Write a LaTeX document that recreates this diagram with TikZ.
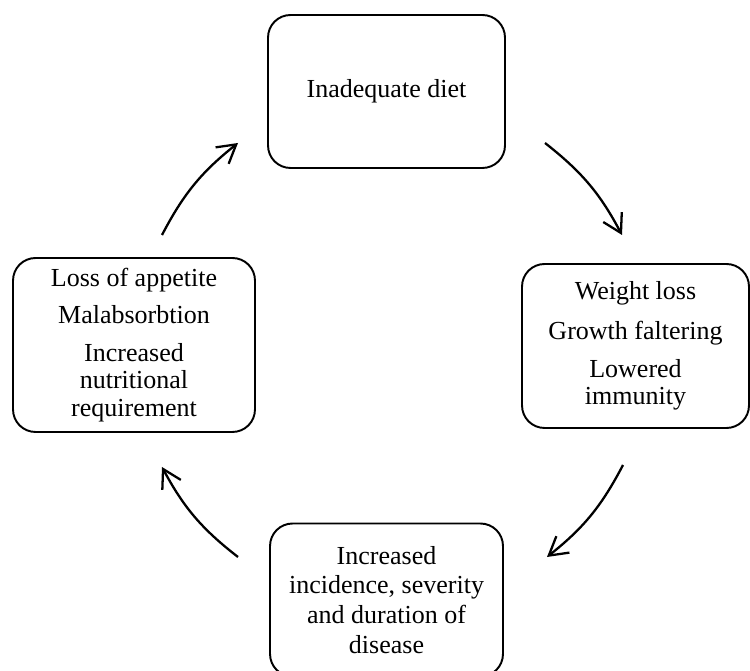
\documentclass[tikz,border=0pt]{standalone}
\usepackage{fontspec}
\setmainfont{Liberation Serif}
\usetikzlibrary{arrows.meta}

\tikzset{
  stage/.style={draw, line width=1.1pt, rounded corners=0.45cm, align=center,
    font=\fontsize{14.8}{15.6}\selectfont, inner sep=0pt},
  cyclearrow/.style={line width=1.3pt, -{Straight Barb[length=0.36cm,width=0.42cm]}, bend left=12}
}

\begin{document}
\begin{tikzpicture}[x=0.02cm,y=-0.02cm]
            \useasboundingbox (0,0) rectangle (750,671);

            \node[stage, minimum width=4.74cm, minimum height=3.06cm] (diet) at (386.5,91.5)
              {Inadequate diet};
            \node[stage, minimum width=4.54cm, minimum height=3.28cm] (weight) at (635.5,346)
              {Weight loss\\[0.25cm]Growth faltering\\[0.2cm]Lowered\\immunity};
            \node[stage, minimum width=4.66cm, minimum height=3.06cm,
              font=\fontsize{14.8}{17}\selectfont] (disease) at (386.5,600)
              {Increased\\incidence, severity\\and duration of\\disease};
            \node[stage, minimum width=4.84cm, minimum height=3.48cm] (appetite) at (134,345)
              {Loss of appetite\\[0.2cm]Malabsorbtion\\[0.2cm]Increased\\nutritional\\requirement};

            \coordinate (a1) at (545,143);
            \coordinate (a2) at (622,235);
            \coordinate (b1) at (623,465);
            \coordinate (b2) at (547,557);
            \coordinate (c1) at (238,557);
            \coordinate (c2) at (162,467);
            \coordinate (d1) at (162,235);
            \coordinate (d2) at (238,143);

            \draw[cyclearrow] (a1) to (a2);
            \draw[cyclearrow] (b1) to (b2);
            \draw[cyclearrow] (c1) to (c2);
            \draw[cyclearrow] (d1) to (d2);
\end{tikzpicture}
\end{document}
